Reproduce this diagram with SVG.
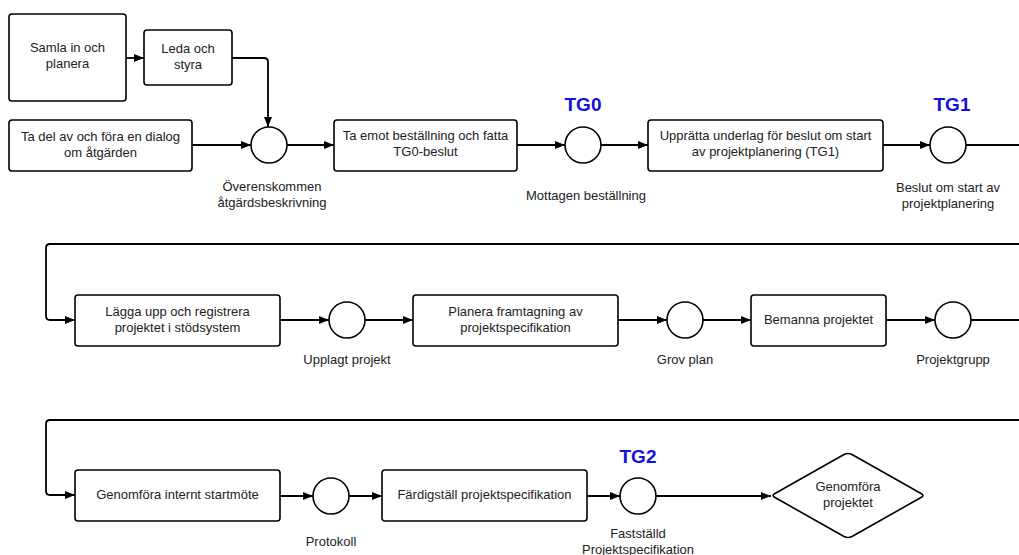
<svg xmlns="http://www.w3.org/2000/svg" width="1019" height="555" viewBox="0 0 1019 555">
  <style>
    .box { fill: #ffffff; stroke: #000000; stroke-width: 1.6; }
    .ev { fill: #ffffff; stroke: #000000; stroke-width: 1.6; }
    .t { font-family: "Liberation Sans", Arial, sans-serif; font-size: 13px; fill: #222222; text-anchor: middle; }
    .tg { font-family: "Liberation Sans", Arial, sans-serif; font-size: 19px; font-weight: bold; fill: #1010e0; text-anchor: middle; }
    .edge { fill: none; stroke: #000000; stroke-width: 1.8; stroke-linejoin: round; }
  </style>
  <defs>
    <marker id="arrow" viewBox="0 0 10 8" refX="10" refY="4" markerWidth="10" markerHeight="8" markerUnits="userSpaceOnUse" orient="auto">
      <path d="M0,0 L10,4 L0,8 Z" fill="#000000"/>
    </marker>
  </defs>

  <rect width="1019" height="555" fill="#ffffff"/>

  <!-- connectors -->
  <g id="connectors" class="edge" marker-end="url(#arrow)">
    <path d="M126,58 H144"/>
    <path d="M232,58 H264 Q268,58 268,62 V127"/>
    <path d="M192,145 H251"/>
    <path d="M287,145 H334"/>
    <path d="M517,145 H565"/>
    <path d="M601,145 H648"/>
    <path d="M883,145 H930"/>
    <path d="M966,145 H1019" marker-end="none"/>
    <path d="M1019,244 H50 Q46,244 46,248 V316 Q46,320 50,320 H75"/>
    <path d="M280,320 H329"/>
    <path d="M365,320 H413"/>
    <path d="M618,320 H667"/>
    <path d="M703,320 H751"/>
    <path d="M886,320 H935"/>
    <path d="M971,320 H1019" marker-end="none"/>
    <path d="M1019,420 H50 Q46,420 46,424 V491 Q46,495 50,495 H75"/>
    <path d="M280,496 H313"/>
    <path d="M349,496 H382"/>
    <path d="M587,496 H620"/>
    <path d="M656,496 H771"/>
  </g>

  <!-- row 1 -->
  <g id="samla">
    <rect class="box" x="9" y="14" width="117" height="87" rx="3"/>
    <text class="t" x="67.5" y="52">Samla in och</text>
    <text class="t" x="67.5" y="68">planera</text>
  </g>
  <g id="leda">
    <rect class="box" x="144" y="30" width="88" height="55" rx="3"/>
    <text class="t" x="188" y="53">Leda och</text>
    <text class="t" x="188" y="69">styra</text>
  </g>
  <g id="dialog">
    <rect class="box" x="9" y="120" width="183" height="51" rx="3"/>
    <text class="t" x="100.5" y="141">Ta del av och föra en dialog</text>
    <text class="t" x="100.5" y="157">om åtgärden</text>
  </g>
  <g id="overenskommen">
    <circle class="ev" cx="269" cy="145" r="18"/>
    <text class="t" x="272" y="191">Överenskommen</text>
    <text class="t" x="272" y="207">åtgärdsbeskrivning</text>
  </g>
  <g id="taemot">
    <rect class="box" x="334" y="120" width="183" height="51" rx="3"/>
    <text class="t" x="425.5" y="140">Ta emot beställning och fatta</text>
    <text class="t" x="425.5" y="156">TG0-beslut</text>
  </g>
  <g id="tg0">
    <text class="tg" x="583" y="111">TG0</text>
    <circle class="ev" cx="583" cy="145" r="18"/>
    <text class="t" x="586" y="200">Mottagen beställning</text>
  </g>
  <g id="uppratta">
    <rect class="box" x="648" y="120" width="235" height="51" rx="3"/>
    <text class="t" x="765.5" y="140">Upprätta underlag för beslut om start</text>
    <text class="t" x="765.5" y="156">av projektplanering (TG1)</text>
  </g>
  <g id="tg1">
    <text class="tg" x="952" y="111">TG1</text>
    <circle class="ev" cx="948" cy="145" r="18"/>
    <text class="t" x="948" y="192">Beslut om start av</text>
    <text class="t" x="948" y="208">projektplanering</text>
  </g>

  <!-- row 2 -->
  <g id="lagga">
    <rect class="box" x="75" y="295" width="205" height="51" rx="3"/>
    <text class="t" x="177.5" y="316">Lägga upp och registrera</text>
    <text class="t" x="177.5" y="332">projektet i stödsystem</text>
  </g>
  <g id="upplagt">
    <circle class="ev" cx="347" cy="320" r="18"/>
    <text class="t" x="347" y="364">Upplagt projekt</text>
  </g>
  <g id="planera">
    <rect class="box" x="413" y="295" width="205" height="51" rx="3"/>
    <text class="t" x="515.5" y="316">Planera framtagning av</text>
    <text class="t" x="515.5" y="332">projektspecifikation</text>
  </g>
  <g id="grovplan">
    <circle class="ev" cx="685" cy="320" r="18"/>
    <text class="t" x="685" y="364">Grov plan</text>
  </g>
  <g id="bemanna">
    <rect class="box" x="751" y="295" width="135" height="51" rx="3"/>
    <text class="t" x="818.5" y="324">Bemanna projektet</text>
  </g>
  <g id="projektgrupp">
    <circle class="ev" cx="953" cy="320" r="18"/>
    <text class="t" x="953" y="364">Projektgrupp</text>
  </g>

  <!-- row 3 -->
  <g id="startmote">
    <rect class="box" x="75" y="470" width="205" height="51" rx="3"/>
    <text class="t" x="177.5" y="499">Genomföra internt startmöte</text>
  </g>
  <g id="protokoll">
    <circle class="ev" cx="331" cy="496" r="18"/>
    <text class="t" x="331" y="546">Protokoll</text>
  </g>
  <g id="fardigstall">
    <rect class="box" x="382" y="470" width="205" height="51" rx="3"/>
    <text class="t" x="484.5" y="499">Färdigställ projektspecifikation</text>
  </g>
  <g id="tg2">
    <text class="tg" x="638" y="463">TG2</text>
    <circle class="ev" cx="638" cy="496" r="18"/>
    <text class="t" x="638" y="538">Fastställd</text>
    <text class="t" x="638" y="554">Projektspecifikation</text>
  </g>
  <g id="genomfora">
    <path class="box" d="M775,493.5 L844,454.5 Q848,452.5 852,454.5 L921,493.5 Q925,495.5 921,497.5 L852,536.5 Q848,538.5 844,536.5 L775,497.5 Q771,495.5 775,493.5 Z"/>
    <text class="t" x="848" y="491">Genomföra</text>
    <text class="t" x="848" y="507">projektet</text>
  </g>
</svg>
